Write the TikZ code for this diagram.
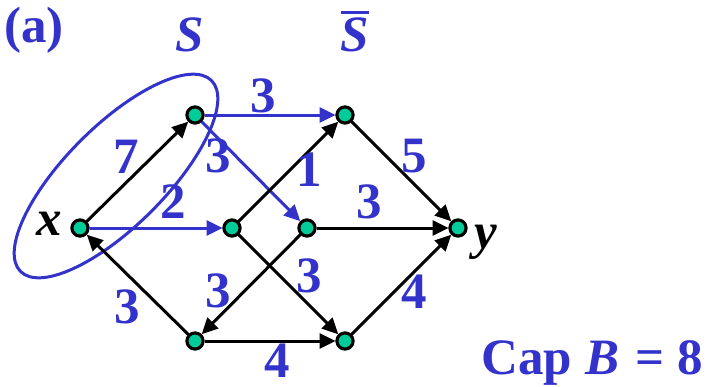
\documentclass[tikz,border=0pt]{standalone}
\usepackage{fontspec}
\setmainfont{Liberation Serif}
\usetikzlibrary{arrows.meta}
\definecolor{fblue}{RGB}{51,51,204}
\definecolor{vgreen}{RGB}{0,204,153}
\newcommand\bigfnt{\fontsize{51}{58}\selectfont\bfseries}
\tikzset{
  vtx/.style={circle, draw=black, fill=vgreen, line width=3pt, inner sep=0pt, minimum size=16pt},
  blk/.style={draw=black, line width=3pt, -{Triangle[length=16pt,width=15pt]}},
  blu/.style={draw=fblue, line width=3pt, -{Triangle[length=16pt,width=15pt]}},
  lbl/.style={font=\bigfnt, text=fblue, inner sep=0pt, anchor=base},
  vlab/.style={font=\bigfnt\itshape, text=black, inner sep=0pt, anchor=base}
}
\begin{document}
\begin{tikzpicture}[x=1pt,y=-1pt]
\fill[white] (0,0) rectangle (708,386);
\useasboundingbox (0,0) rectangle (708,386);
% vertices
\node[vtx] (x) at (80,228) {};
\node[vtx] (a) at (195,115) {};
\node[vtx] (b) at (232,228) {};
\node[vtx] (c) at (307,228) {};
\node[vtx] (d) at (345,115) {};
\node[vtx] (e) at (195,341) {};
\node[vtx] (f) at (345,341) {};
\node[vtx] (y) at (458,228) {};
% cut ellipse
\draw[fblue, line width=3pt, rotate around={45:(116,176)}] (116,176) ellipse [x radius=135pt, y radius=50pt];
% edges
\draw[blk] (x) -- (a);
\draw[blu] (x) -- (b);
\draw[blk] (e) -- (x);
\draw[blu] (a) -- (d);
\draw[blu] (a) -- (c);
\draw[blk] (b) -- (d);
\draw[blk] (b) -- (f);
\draw[blk] (c) -- (e);
\draw[blk] (c) -- (y);
\draw[blk] (d) -- (y);
\draw[blk] (e) -- (f);
\draw[blk] (f) -- (y);
% redraw vertices on top
\foreach \v in {x,a,b,c,d,e,f,y} {\node[vtx] at (\v) {};}
% edge labels
\node[lbl] (l7) at (126,173) {7};
\node[lbl] (l2) at (173,218) {2};
\node[lbl] (lad) at (263,112) {3};
\node[lbl] (lac) at (218,172) {3};
\node[lbl] (l1) at (309,186) {1};
\node[lbl] (lcy) at (369,218) {3};
\node[lbl] (l5) at (414,172) {5};
\node[lbl] (lbf) at (309,292) {3};
\node[lbl] (lce) at (218,307) {3};
\node[lbl] (lex) at (127,323) {3};
\node[lbl] (lfy) at (414,308) {4};
\node[lbl] (lef) at (277,377) {4};
% vertex labels
\node[vlab] (xl) at (49,235) {x};
\node[vlab] (yl) at (486,248) {y};
% set labels
\node[lbl, font=\bigfnt\itshape] (S) at (190,51) {S};
\node[lbl, font=\bigfnt\itshape] (Sb) at (355,51) {\vbox{\hrule height 3pt\kern 3pt\hbox{S}}};
\node[lbl, anchor=base west] (tag) at (4,42) {(a)};
\node[lbl, anchor=base west] (cap) at (481,374) {Cap\kern 14pt\textit{B}\kern 16pt=\kern 13pt8};
\end{tikzpicture}
\end{document}
